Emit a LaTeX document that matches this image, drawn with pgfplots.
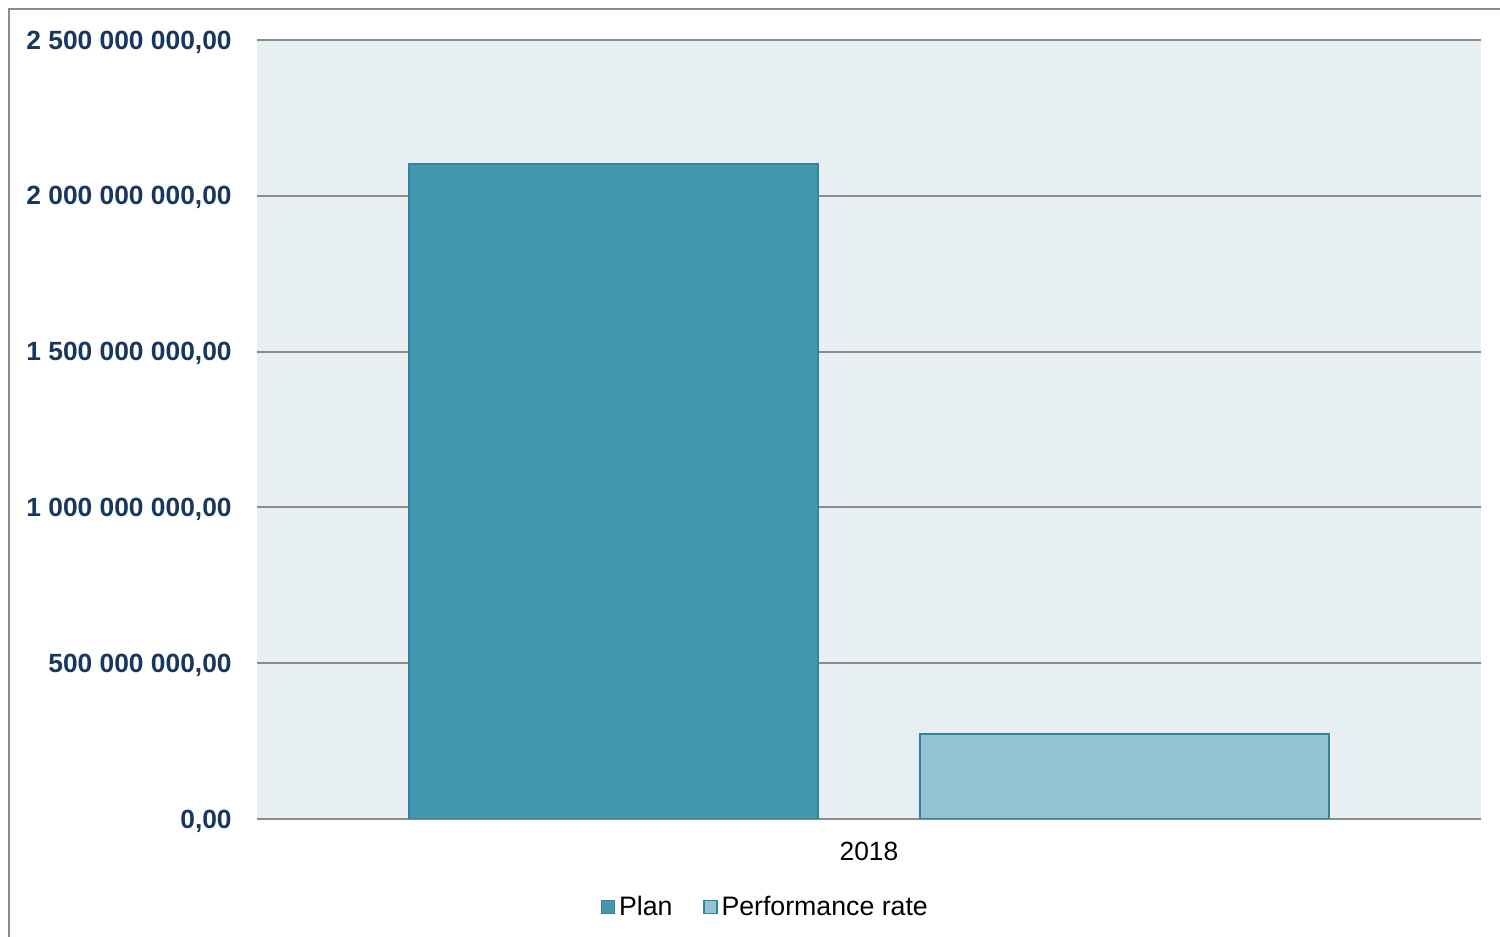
\documentclass[border=0pt]{standalone}
\usepackage{pgfplots}
\pgfplotsset{compat=1.18}
\usepackage{fontspec}
\setmainfont{Liberation Sans}

\definecolor{planfill}{HTML}{4398B0}
\definecolor{planedge}{HTML}{31849B}
\definecolor{perffill}{HTML}{93C3D4}
\definecolor{plotbg}{HTML}{E8EFF3}
\definecolor{gridgray}{HTML}{8C8C8C}
\definecolor{navy}{HTML}{17375E}

\begin{document}
\begin{tikzpicture}
  % page is 1500 x 937 px, 1 px = 0.02 cm
  \useasboundingbox (0,0) rectangle (30,18.74);
  \draw[gridgray, line width=0.04cm] (0.18,0) -- (0.18,18.56) -- (30,18.56);
  \begin{axis}[
    at={(5.14cm,2.36cm)}, anchor=south west,
    width=24.48cm, height=15.58cm, scale only axis,
    xmin=-0.5, xmax=0.5, ymin=0, ymax=2.5e9,
    scaled y ticks=false,
    axis background/.style={fill=plotbg},
    axis line style={draw=none},
    major tick length=0,
    ymajorgrids, grid style={gridgray, line width=0.04cm},
    ytick={0,5e8,1e9,1.5e9,2e9,2.5e9},
    yticklabels={{0,00},{500 000 000,00},{1 000 000 000,00},{1 500 000 000,00},{2 000 000 000,00},{2 500 000 000,00}},
    yticklabel style={anchor=east, inner sep=0pt, xshift=-0.5cm, yshift=-0.04cm, text=navy,
      font=\fontsize{15}{17}\selectfont\bfseries},
    xtick={0}, xticklabels={2018},
    xticklabel style={anchor=center, inner sep=0pt, yshift=-0.64cm,
      font=\fontsize{15}{18}\selectfont},
    ybar,
    legend image code/.code={\draw[#1, line width=0.03cm] (0cm,-0.13cm) rectangle (0.26cm,0.13cm);},
    legend style={at={(0.416,-0.113)}, anchor=center, draw=none, fill=none,
      legend columns=-1, font=\fontsize{15.2}{18}\selectfont,
      /tikz/every even column/.append style={column sep=0.55cm}},
  ]
    \addplot[bar width=8.18cm, bar shift=-5.11cm, fill=planfill, draw=planedge, line width=0.03cm]
      coordinates {(0,2.102e9)};
    \addplot[bar width=8.18cm, bar shift=5.11cm, fill=perffill, draw=planedge, line width=0.03cm]
      coordinates {(0,2.73e8)};
    \legend{Plan, Performance rate}
  \end{axis}
\end{tikzpicture}
\end{document}
